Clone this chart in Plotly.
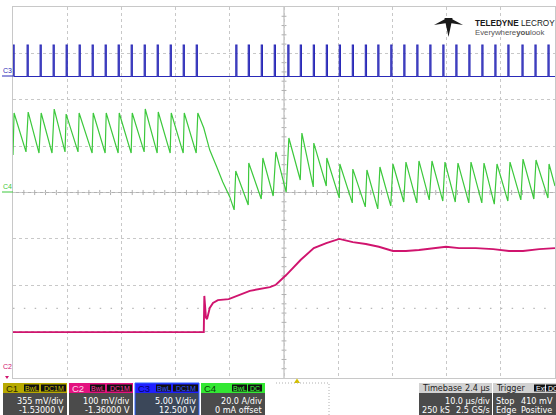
import plotly.graph_objects as go

T_RANGE = [-52.4, 47.6]          # μs, trigger at 0 (timebase delay 2.4 μs), 10 μs/div

# C3 : gate pulses (5 V/div, offset 12.5 V)
c3_vdiv, c3_offset = 5.0, 12.5
c3_pulse_t = [-52.4, -49.8, -47.4, -45.0, -42.6, -40.2, -37.8, -35.4, -33.0, -30.6,
              -28.2, -25.8, -23.4, -21.0, -18.6,
              -11.3, -9.0, -6.6, -4.2, -1.7, 0.6, 3.0, 5.4, 7.8, 10.2, 12.6, 14.9,
              17.3, 19.7, 22.1, 24.5, 26.9, 29.3, 31.7, 34.1, 36.5, 38.9, 41.5, 43.9, 46.3]
c3_pulse_width = 0.22            # μs
c3_low_v = 0.0
c3_high_v = 3.4

# C4 : inductor current (20 A/div, 0 offset)
c4_adiv, c4_offset = 20.0, 0.0
c4_t = [-52.4, -52.2, -50.0, -49.6, -47.6, -47.2, -45.2, -44.8, -42.8, -42.6,
        -40.4, -40.2, -37.8, -37.6, -35.4, -35.2, -33.0, -32.8, -30.6, -30.4,
        -28.2, -28.0, -25.8, -25.6, -23.4, -23.2, -21.0, -20.8, -18.6, -18.3,
        -17.2, -16.1, -14.8, -13.7, -12.4, -11.6,
        -11.3, -9.0, -8.9, -6.6, -6.3, -4.4, -3.9, -2.0, -1.5, 0.6, 0.9, 3.0, 3.1,
        5.4, 5.5, 7.8, 7.9, 10.2, 10.3, 12.6, 12.9, 14.9, 15.3, 17.3, 17.7, 19.7,
        20.1, 22.1, 22.5, 24.4, 24.9, 26.9, 27.3, 29.2, 29.7, 31.7, 32.1, 34.1,
        34.5, 36.4, 36.9, 38.9, 39.3, 41.3, 41.7, 43.7, 44.1, 46.3, 46.5, 47.6]
c4_a = [16.2, 34.3, 17.5, 34.7, 17.0, 34.3, 17.0, 36.0, 17.5, 33.8,
        17.5, 34.3, 17.0, 34.3, 17.0, 34.3, 17.0, 34.3, 17.0, 34.3,
        17.5, 36.0, 17.0, 34.7, 17.0, 34.3, 17.0, 34.3, 17.0, 34.3,
        27.8, 18.3, 11.0, 4.5, -1.9, -7.5,
        9.3, -5.4, 12.7, -2.8, 14.9, -1.5, 17.5, 0.2, 23.5, 5.4, 25.6, 2.4, 21.3,
        2.8, 14.9, -2.4, 12.3, -4.5, 10.1, -6.2, 9.7, -7.1, 11.0, -5.8, 12.3, -4.1,
        13.1, -4.5, 13.6, -3.2, 13.6, -3.7, 13.1, -4.1, 12.7, -4.5, 13.1, -4.5,
        12.7, -5.0, 12.3, -3.7, 13.1, -3.2, 14.4, -2.8, 14.0, -2.4, 12.3, 2.8]

# C2 : output voltage (100 mV/div, offset -1.36 V)
c2_vdiv, c2_offset = 0.1, -1.36
c2_t = [-52.4, -17.2, -17.1, -16.8, -16.6, -16.1, -15.5, -14.6, -12.6, -8.7, -5.0,
        -3.9, -2.0, 0.7, 3.1, 5.4, 7.8, 10.3, 12.7, 15.1, 17.7, 20.1, 22.5, 25.1,
        27.5, 29.9, 33.0, 36.2, 39.1, 41.7, 44.7, 47.6]
c2_v = [1.059, 1.059, 1.137, 1.090, 1.087, 1.111, 1.122, 1.128, 1.130, 1.148, 1.156,
        1.161, 1.182, 1.215, 1.240, 1.251, 1.260, 1.253, 1.249, 1.243, 1.234, 1.234,
        1.236, 1.240, 1.243, 1.240, 1.240, 1.238, 1.234, 1.234, 1.238, 1.240]

ch_names = ["C1", "C2", "C3", "C4"]
ch_scale = ["355 mV/div", "100 mV/div", "5.00 V/div", "20.0 A/div"]
ch_offset_txt = ["-1.53000 V", "-1.36000 V", "12.500 V", "0 mA offset"]
ch_badges = [["BwL", "DC1M"], ["BwL", "DC1M"], ["BwL", "DC1M"], ["BwL", "DC"]]
timebase_txt = ["Timebase", "2.4 µs", "10.0 µs/div", "250 kS", "2.5 GS/s"]
trigger_txt = ["Trigger", "Ext", "DC", "Stop", "410 mV", "Edge", "Positive"]

# ---------------- styling ----------------
W, H = 556, 415
FONT = "Liberation Sans, Arial, sans-serif"
NARROW = "Liberation Sans Narrow, Arial Narrow, DejaVu Sans Condensed, Liberation Sans, sans-serif"
BLUE, GREEN, PINK = "#2a2ab8", "#3cc83c", "#d0146e"
GRID = "#c8c8c8"
HDR = ["#b8aa00", "#e3127f", "#2020ff", "#33e833"]
HDR_TXT = ["#2e2a00", "#ffd6ea", "#00006a", "#0b3d0b"]
BADGE_TXT = ["#d6c800", "#ff3aa0", "#3a5cff", "#44ff44"]
BODY = "#4b4b4b"
FS = 9


def px(x):
    return x / W


def py(y):
    return 1 - y / H


# gate waveform built from pulse list
c3_x, c3_y = [T_RANGE[0]], [c3_low_v]
for t in c3_pulse_t:
    c3_x += [t, t, t + c3_pulse_width, t + c3_pulse_width]
    c3_y += [c3_low_v, c3_high_v, c3_high_v, c3_low_v]
c3_x.append(T_RANGE[1])
c3_y.append(c3_low_v)

fig = go.Figure()
fig.add_trace(go.Scatter(x=c3_x, y=c3_y, yaxis="y2", mode="lines",
                         line=dict(color=BLUE, width=1.1), hoverinfo="skip"))
fig.add_trace(go.Scatter(x=c4_t, y=c4_a, yaxis="y", mode="lines",
                         line=dict(color=GREEN, width=1.2), hoverinfo="skip"))
fig.add_trace(go.Scatter(x=c2_t, y=c2_v, yaxis="y3", mode="lines",
                         line=dict(color=PINK, width=1.9), hoverinfo="skip"))

c3_center = -c3_offset
c2_center = -c2_offset
fig.update_layout(
    width=W, height=H, margin=dict(l=0, r=0, t=0, b=0),
    paper_bgcolor="white", plot_bgcolor="rgba(0,0,0,0)", showlegend=False,
    font=dict(family=FONT),
    xaxis=dict(domain=[px(13), px(555)], range=T_RANGE, tick0=T_RANGE[0], dtick=10,
               showgrid=True, griddash="dot", gridcolor=GRID, gridwidth=1,
               showline=True, mirror=True, linecolor="#c8c8c8", linewidth=1,
               zeroline=False, showticklabels=False, ticks="", fixedrange=True),
    yaxis=dict(domain=[py(378), py(7)], range=[c4_offset - 4 * c4_adiv, c4_offset + 4 * c4_adiv],
               tick0=0, dtick=c4_adiv, showgrid=True, griddash="dot", gridcolor=GRID,
               showline=True, mirror=True, linecolor="#c8c8c8", linewidth=1,
               zeroline=False, showticklabels=False, ticks="", fixedrange=True),
    yaxis2=dict(overlaying="y", range=[c3_center - 4 * c3_vdiv, c3_center + 4 * c3_vdiv],
                visible=False, fixedrange=True),
    yaxis3=dict(overlaying="y", range=[c2_center - 4 * c2_vdiv, c2_center + 4 * c2_vdiv],
                visible=False, fixedrange=True),
)

shapes = []
ann = []
xc = (T_RANGE[0] + T_RANGE[1]) / 2
ymin, ymax = c4_offset - 4 * c4_adiv, c4_offset + 4 * c4_adiv
# center cross
shapes.append(dict(type="line", xref="x", yref="y", x0=xc, x1=xc, y0=ymin, y1=ymax,
                   line=dict(color="#b0b0b0", width=1), layer="below"))
shapes.append(dict(type="line", xref="x", yref="y", x0=T_RANGE[0], x1=T_RANGE[1], y0=0, y1=0,
                   line=dict(color="#b0b0b0", width=1), layer="below"))
# minor ticks on center cross (0.2 div)
path = ""
for k in range(1, 40):
    yy = ymin + k * c4_adiv / 5
    path += f"M {xc - 0.45} {yy} L {xc + 0.45} {yy} "
for k in range(1, 50):
    xx = T_RANGE[0] + k * 2.0
    path += f"M {xx} -1.1 L {xx} 1.1 "
shapes.append(dict(type="path", xref="x", yref="y", path=path,
                   line=dict(color="#b0b0b0", width=1), layer="below"))
# dotted reference row
shapes.append(dict(type="line", xref="x", yref="y", x0=T_RANGE[0], x1=T_RANGE[1],
                   y0=-2.5 * c4_adiv, y1=-2.5 * c4_adiv,
                   line=dict(color="#b8b8b8", width=1.2, dash="1.5px,9.34px"), layer="below"))

# left channel markers
for name, yy, col in [("C3", 76, BLUE), ("C4", 192, GREEN), ("C2", 372, PINK)]:
    ann.append(dict(x=px(2), y=py(yy - 1), text=name, xanchor="left", yanchor="bottom",
                    font=dict(size=7, color=col)))
    if name != "C2":
        shapes.append(dict(type="line", xref="paper", yref="paper", x0=px(2), x1=px(13),
                           y0=py(yy), y1=py(yy), line=dict(color=col, width=1)))
shapes.append(dict(type="path", xref="paper", yref="paper",
                   path=f"M {px(5)} {py(376)} L {px(9)} {py(376)} L {px(7)} {py(379)} Z",
                   fillcolor=PINK, line=dict(width=0)))

# trigger position marker
shapes.append(dict(type="path", xref="paper", yref="paper",
                   path=f"M {px(294)} {py(383)} L {px(300)} {py(383)} L {px(297)} {py(378.5)} Z",
                   fillcolor="#d4c000", line=dict(width=0)))
# dotted empty slot
shapes.append(dict(type="path", xref="paper", yref="paper",
                   path=f"M {px(276)} {py(383)} L {px(329)} {py(383)} L {px(329)} {py(416)}",
                   line=dict(color="#b0b0b0", width=1, dash="1px,2px")))

# channel descriptor boxes
x0s = [3, 69, 135, 201]
for i, x0 in enumerate(x0s):
    x1 = x0 + 64
    shapes.append(dict(type="rect", xref="paper", yref="paper", x0=px(x0), x1=px(x1),
                       y0=py(393), y1=py(383), fillcolor=HDR[i], line=dict(width=0)))
    body = "#3b4759" if i == 2 else BODY
    shapes.append(dict(type="rect", xref="paper", yref="paper", x0=px(x0), x1=px(x1),
                       y0=py(416), y1=py(393), fillcolor=body, line=dict(width=0)))
    if i == 2:
        shapes.append(dict(type="rect", xref="paper", yref="paper", x0=px(x0), x1=px(x1),
                           y0=py(415.5), y1=py(383), line=dict(color="#2f63ff", width=1)))
    ann.append(dict(x=px(x0 + 2), y=py(388.2), text=ch_names[i], xanchor="left",
                    font=dict(size=9.5, color=HDR_TXT[i])))
    if i < 3:
        bpos = [(x0 + 21, x0 + 36), (x0 + 38, x0 + 63)]
    else:
        bpos = [(x0 + 31, x0 + 46), (x0 + 47, x0 + 61)]
    for (bx0, bx1), btxt in zip(bpos, ch_badges[i]):
        shapes.append(dict(type="rect", xref="paper", yref="paper", x0=px(bx0), x1=px(bx1),
                           y0=py(391.5), y1=py(384.5), fillcolor="#111111", line=dict(width=0)))
        ann.append(dict(x=px((bx0 + bx1) / 2), y=py(388.2), text=btxt, xanchor="center",
                        font=dict(size=7, color=BADGE_TXT[i])))
    ann.append(dict(x=px(x1 - 2), y=py(400.5), text=ch_scale[i], xanchor="right",
                    font=dict(size=FS, color="white", family=NARROW)))
    ann.append(dict(x=px(x1 - 2), y=py(410), text=ch_offset_txt[i], xanchor="right",
                    font=dict(size=FS, color="white", family=NARROW)))

# timebase box
shapes.append(dict(type="rect", xref="paper", yref="paper", x0=px(419), x1=px(492),
                   y0=py(393), y1=py(383), fillcolor="#d2d2d2", line=dict(width=0)))
shapes.append(dict(type="rect", xref="paper", yref="paper", x0=px(419), x1=px(492),
                   y0=py(416), y1=py(393), fillcolor=BODY, line=dict(width=0)))
ann += [
    dict(x=px(420.5), y=py(388.2), text=timebase_txt[0], xanchor="left", font=dict(size=FS, color="#222", family=NARROW)),
    dict(x=px(491), y=py(388.2), text=timebase_txt[1], xanchor="right", font=dict(size=FS, color="#222", family=NARROW)),
    dict(x=px(491), y=py(400.5), text=timebase_txt[2], xanchor="right", font=dict(size=FS, color="white", family=NARROW)),
    dict(x=px(420.5), y=py(410), text=timebase_txt[3], xanchor="left", font=dict(size=FS, color="white", family=NARROW)),
    dict(x=px(491), y=py(410), text=timebase_txt[4], xanchor="right", font=dict(size=FS, color="white", family=NARROW)),
]
# trigger box
shapes.append(dict(type="rect", xref="paper", yref="paper", x0=px(493), x1=px(557),
                   y0=py(393), y1=py(383), fillcolor="#d2d2d2", line=dict(width=0)))
shapes.append(dict(type="rect", xref="paper", yref="paper", x0=px(493), x1=px(557),
                   y0=py(416), y1=py(393), fillcolor=BODY, line=dict(width=0)))
for bx0, bx1, btxt in [(534, 545, trigger_txt[1]), (546, 557, trigger_txt[2])]:
    shapes.append(dict(type="rect", xref="paper", yref="paper", x0=px(bx0), x1=px(bx1),
                       y0=py(391.5), y1=py(384.5), fillcolor="#111111", line=dict(width=0)))
    ann.append(dict(x=px(bx0 + 1), y=py(388.2), text=btxt, xanchor="left",
                    font=dict(size=7, color="white")))
ann += [
    dict(x=px(494.5), y=py(388.2), text=trigger_txt[0], xanchor="left", font=dict(size=FS, color="#222", family=NARROW)),
    dict(x=px(494.5), y=py(400.5), text=trigger_txt[3], xanchor="left", font=dict(size=FS, color="white", family=NARROW)),
    dict(x=px(520), y=py(400.5), text=trigger_txt[4], xanchor="left", font=dict(size=FS, color="white", family=NARROW)),
    dict(x=px(494.5), y=py(410), text=trigger_txt[5], xanchor="left", font=dict(size=FS, color="white", family=NARROW)),
    dict(x=px(520), y=py(410), text=trigger_txt[6], xanchor="left", font=dict(size=FS, color="white", family=NARROW)),
]

# logo
logo_polys = [
    [(434, 25), (447, 18), (447, 23)],
    [(463, 25), (450, 18), (450, 23)],
    [(444.5, 18), (452.5, 18), (448.5, 37)],
]
for poly in logo_polys:
    p = "M " + " L ".join(f"{px(a)} {py(b)}" for a, b in poly) + " Z"
    shapes.append(dict(type="path", xref="paper", yref="paper", path=p,
                       fillcolor="#1a1a1a", line=dict(width=0)))
ann += [
    dict(x=px(474), y=py(23.5), text="<b>TELEDYNE</b> LECROY", xanchor="left",
         font=dict(size=8.2, color="#1a1a1a")),
    dict(x=px(474), y=py(32), text="Everywhere<b>you</b>look", xanchor="left",
         font=dict(size=7.8, color="#555555")),
]

for a in ann:
    a.setdefault("xref", "paper")
    a.setdefault("yref", "paper")
    a.setdefault("showarrow", False)
    a.setdefault("yanchor", "middle")
    a.setdefault("borderpad", 0)
    a["font"].setdefault("family", FONT)

fig.update_layout(shapes=shapes, annotations=ann)
fig.write_html("out.html", config={"displayModeBar": False, "staticPlot": True},
               post_script="document.body.style.margin='0';document.body.style.overflow='hidden';")
